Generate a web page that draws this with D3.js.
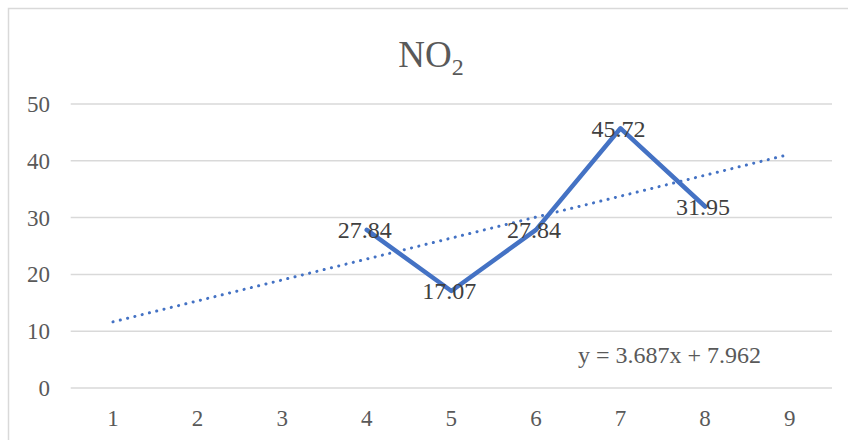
<!DOCTYPE html>
<html>
<head>
<meta charset="utf-8">
<script src="https://cdn.jsdelivr.net/npm/d3@7"></script>
<style>
  html, body { margin: 0; padding: 0; background: #fff; }
  svg { display: block; }
  text { font-family: "Liberation Serif", "Times New Roman", serif; }
</style>
</head>
<body>
<div id="chart"></div>
<script>
// ---- data ----
const categories = [1, 2, 3, 4, 5, 6, 7, 8, 9];
const seriesX = [4, 5, 6, 7, 8];
const seriesValues = [27.84, 17.07, 27.84, 45.72, 31.95];
const yTicks = [0, 10, 20, 30, 40, 50];
const trendSlope = 3.687;
const trendIntercept = 7.962;
const trendX = [1, 9];
const titleMain = "NO";
const titleSub = "2";
const equationText = "y = 3.687x + 7.962";

// ---- layout ----
const W = 848, H = 440;
const svg = d3.select("#chart").append("svg").attr("width", W).attr("height", H);

svg.append("rect").attr("x", 8.5).attr("y", 8.5).attr("width", W + 20).attr("height", H + 20)
  .attr("fill", "#fff").attr("stroke", "#d9d9d9").attr("stroke-width", 1.5);

const x = d3.scaleBand().domain(categories).range([70.7, 832]);
const xc = d => x(d) + x.bandwidth() / 2;
const y = d3.scaleLinear().domain([0, 50]).range([388, 104]);

// gridlines
svg.append("g").selectAll("line").data(yTicks).join("line")
  .attr("x1", 70.7).attr("x2", 832)
  .attr("y1", d => y(d)).attr("y2", d => y(d))
  .attr("stroke", "#d9d9d9").attr("stroke-width", 1.5);

// y tick labels
svg.append("g").selectAll("text").data(yTicks).join("text")
  .attr("x", 50).attr("y", d => y(d)).attr("dy", "0.35em")
  .attr("text-anchor", "end").attr("font-size", 23).attr("fill", "#595959")
  .text(d => d);

// x tick labels
svg.append("g").selectAll("text").data(categories).join("text")
  .attr("x", d => xc(d)).attr("y", 418).attr("dy", "0.35em")
  .attr("text-anchor", "middle").attr("font-size", 23).attr("fill", "#595959")
  .text(d => d);

// title
const t = svg.append("text").attr("x", 431).attr("y", 67).attr("text-anchor", "middle")
  .attr("font-size", 37).attr("fill", "#595959");
t.append("tspan").text(titleMain);
t.append("tspan").attr("font-size", 24).attr("dy", 8).text(titleSub);

// trendline
const trendData = trendX.map(v => ({ x: v, y: trendSlope * v + trendIntercept }));
svg.append("path").datum(trendData)
  .attr("d", d3.line().x(d => xc(d.x)).y(d => y(d.y)))
  .attr("fill", "none").attr("stroke", "#4472c4").attr("stroke-width", 3)
  .attr("stroke-linecap", "round").attr("stroke-dasharray", "0.1 7.4");

// series line
const pts = seriesX.map((v, i) => ({ x: v, y: seriesValues[i] }));
svg.append("path").datum(pts)
  .attr("d", d3.line().x(d => xc(d.x)).y(d => y(d.y)))
  .attr("fill", "none").attr("stroke", "#4472c4").attr("stroke-width", 4.5)
  .attr("stroke-linejoin", "round").attr("stroke-linecap", "round");

// data labels
svg.append("g").selectAll("text").data(pts).join("text")
  .attr("x", d => xc(d.x) - 2).attr("y", d => y(d.y)).attr("dy", "0.35em")
  .attr("text-anchor", "middle").attr("font-size", 24).attr("fill", "#404040")
  .text(d => d.y.toFixed(2));

// equation
svg.append("text").attr("x", 578).attr("y", 355).attr("dy", "0.35em")
  .attr("font-size", 24).attr("fill", "#595959").text(equationText);
</script>
</body>
</html>
